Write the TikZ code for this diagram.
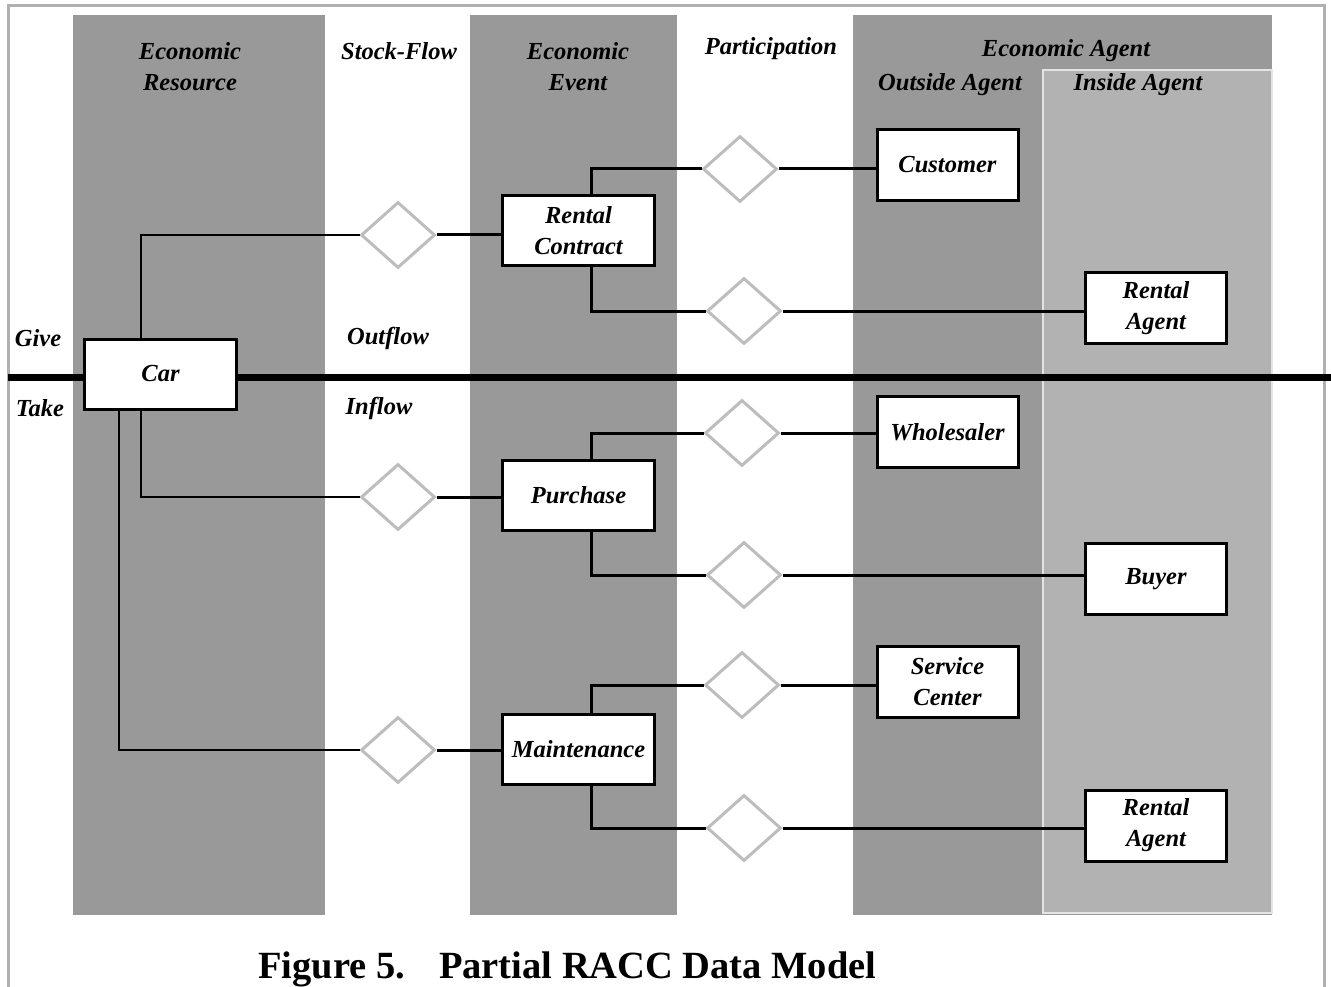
\documentclass[tikz,border=0pt]{standalone}
\usepackage{fontspec}
\setmainfont{Liberation Serif}
\usetikzlibrary{shapes.geometric}
\definecolor{bandgray}{HTML}{999999}
\definecolor{insidegray}{HTML}{B2B2B2}
\definecolor{framegray}{HTML}{B0B0B0}
\definecolor{diagray}{HTML}{BDBDBD}
\definecolor{edgegray}{HTML}{E4E4E4}
\tikzset{
  entity/.style={draw=black, line width=3pt, fill=white, rectangle, inner sep=0pt,
    minimum width=152pt, minimum height=70pt, align=center,
    font=\fontsize{24.5}{31}\selectfont\bfseries\itshape},
  agentbox/.style={entity, minimum width=141pt, minimum height=71pt},
  relation/.style={draw=diagray, line width=3pt, fill=white, diamond, inner sep=0pt,
    minimum width=74pt, minimum height=66pt},
  heading/.style={align=center, font=\fontsize{24.5}{31}\selectfont\bfseries\itshape, inner sep=0pt},
  strong/.style={line width=3pt},
  weak/.style={line width=2pt},
}
\begin{document}
\begin{tikzpicture}[x=1pt, y=-1pt]
\useasboundingbox (0,0) rectangle (1331,987);
\fill[white] (0,0) rectangle (1331,987);
% outer frame
\draw[framegray, line width=3pt] (8.5,1000) -- (8.5,5.5) -- (1324.5,5.5) -- (1324.5,1000);
% column bands
\fill[bandgray] (73,15) rectangle (325,915);
\fill[bandgray] (470,15) rectangle (677,915);
\fill[bandgray] (853,15) rectangle (1272,915);
\fill[insidegray, draw=edgegray, line width=2pt] (1043,70) rectangle (1272,913);
% column headings
\node[heading] (hres) at (190,67) {Economic\\Resource};
\node[heading] (hsf) at (399,51) {Stock-Flow};
\node[heading] (hev) at (578,67) {Economic\\Event};
\node[heading] (hpart) at (771,49) {Participation};
\node[heading] (hag) at (1066,51) {Economic Agent};
\node[heading] (hout) at (950,85) {Outside Agent};
\node[heading] (hin) at (1138,85) {Inside Agent};
% give / take divider
\coordinate (divl) at (8,377.5);
\coordinate (divr) at (1331,377.5);
\draw[line width=7pt] (divl) -- (divr);
\node[heading] (give) at (38,338) {Give};
\node[heading] (take) at (40,408) {Take};
\node[heading] (outflow) at (388,338) {Outflow};
\node[heading] (inflow) at (379,408) {Inflow};
% entities
\node[entity] (car) at (160.5,374) {Car};
\node[entity] (rc) at (578.5,231) {Rental\\Contract};
\node[entity] (pur) at (578.5,495) {Purchase};
\node[entity] (mnt) at (578.5,749) {Maintenance};
\node[agentbox] (cust) at (947.5,165) {Customer};
\node[agentbox] (whol) at (947.5,432) {Wholesaler};
\node[agentbox] (svc) at (947.5,682) {Service\\Center};
\node[agentbox] (ra1) at (1156,308) {Rental\\Agent};
\node[agentbox] (buy) at (1156,579) {Buyer};
\node[agentbox] (ra2) at (1156,825.5) {Rental\\Agent};
% relationships
\node[relation] (d1) at (398,235) {};
\node[relation] (d2) at (740,169) {};
\node[relation] (d3) at (744,311) {};
\node[relation] (d4) at (398,497) {};
\node[relation] (d5) at (742,433) {};
\node[relation] (d6) at (744,575) {};
\node[relation] (d7) at (742,685) {};
\node[relation] (d8) at (398,750) {};
\node[relation] (d9) at (744,828) {};
% resource to stock-flow
\draw[weak] ([xshift=-20pt]car.north) |- (d1.west);
\draw[weak] ([xshift=-20pt]car.south) |- (d4.west);
\draw[weak] ([xshift=-42pt]car.south) |- (d8.west);
% stock-flow to events
\draw[strong] (d1.east) -- (d1.east -| rc.west);
\draw[strong] (d4.east) -- (d4.east -| pur.west);
\draw[strong] (d8.east) -- (d8.east -| mnt.west);
% events to participations
\draw[strong] ([xshift=13pt]rc.north) |- (d2.west);
\draw[strong] ([xshift=13pt]rc.south) |- (d3.west);
\draw[strong] ([xshift=13pt]pur.north) |- (d5.west);
\draw[strong] ([xshift=13pt]pur.south) |- (d6.west);
\draw[strong] ([xshift=13pt]mnt.north) |- (d7.west);
\draw[strong] ([xshift=13pt]mnt.south) |- (d9.west);
% participations to agents
\draw[strong] (d2.east) -- (d2.east -| cust.west);
\draw[strong] (d3.east) -- (d3.east -| ra1.west);
\draw[strong] (d5.east) -- (d5.east -| whol.west);
\draw[strong] (d6.east) -- (d6.east -| buy.west);
\draw[strong] (d7.east) -- (d7.east -| svc.west);
\draw[strong] (d9.east) -- (d9.east -| ra2.west);
% caption
\node[font=\fontsize{38.5}{40}\selectfont\bfseries, inner sep=0pt, anchor=base west] (cap) at (258,978)
  {Figure 5.\hspace{34pt}Partial RACC Data Model};
\end{tikzpicture}
\end{document}
